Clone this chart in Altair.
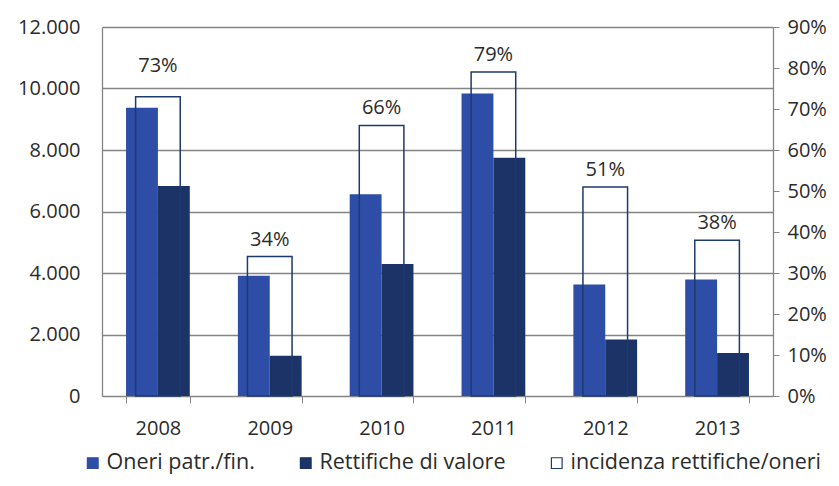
import altair as alt
import pandas as pd

anni = ["2008", "2009", "2010", "2011", "2012", "2013"]
oneri = [9370, 3910, 6560, 9840, 3630, 3790]
rettifiche = [6830, 1310, 4290, 7750, 1840, 1400]
incidenza = [0.73, 0.34, 0.66, 0.79, 0.51, 0.38]
serie = ["Oneri patr./fin.", "Rettifiche di valore", "incidenza rettifiche/oneri"]

blue = "#2D4DA6"
dark = "#1B3367"
navy = "#1F3A6E"
grid = "#858585"
txt = "#2b2b2b"
FONT = "Open Sans"

bars_df = pd.DataFrame({
    "anno": anni * 2,
    "serie": [serie[0]] * len(anni) + [serie[1]] * len(anni),
    "valore": oneri + rettifiche,
})
inc_df = pd.DataFrame({
    "anno": anni,
    "serie": [serie[2]] * len(anni),
    "incidenza": incidenza,
    "etichetta": [f"{round(v * 100)}%" for v in incidenza],
})

x_enc = alt.X(
    "anno:N",
    sort=anni,
    scale=alt.Scale(paddingInner=0.43, paddingOuter=0.215),
    axis=alt.Axis(
        title=None, labelAngle=0, tickBand="extent", tickSize=7,
        tickColor=grid, domainColor=grid, labelFontSize=20, labelPadding=15,
        labelColor=txt, labelFont=FONT,
    ),
)

fill_scale = alt.Scale(domain=serie, range=[blue, dark, "white"])
stroke_scale = alt.Scale(domain=serie, range=[blue, dark, navy])
legend = alt.Legend(
    title=None, orient="none", direction="horizontal", legendX=-20, legendY=425,
    symbolType="square", symbolSize=115, symbolStrokeWidth=1.2,
    labelFontSize=21.5, labelFont=FONT, labelColor=txt, labelOffset=3,
    columnPadding=40, labelLimit=400,
)

bars = alt.Chart(bars_df).mark_bar(strokeWidth=0).encode(
    x=x_enc,
    xOffset=alt.XOffset("serie:N", sort=serie[:2], scale=alt.Scale(paddingInner=0, paddingOuter=0)),
    y=alt.Y(
        "valore:Q",
        scale=alt.Scale(domain=[0, 12000], nice=False),
        axis=alt.Axis(
            title=None, values=list(range(0, 12001, 2000)), grid=True,
            gridColor=grid, gridWidth=1.3, domainColor=grid, domainWidth=1.3,
            ticks=False, labelPadding=22, labelFontSize=20, labelFont=FONT,
            labelColor=txt,
            labelExpr="replace(format(datum.value, ','), ',', '.')",
        ),
    ),
    fill=alt.Fill("serie:N", scale=fill_scale, legend=legend),
)

hollow = alt.Chart(inc_df).mark_bar(
    fill="transparent", strokeWidth=1.5, width=alt.RelativeBandSize(0.7)
).encode(
    x=x_enc,
    y=alt.Y(
        "incidenza:Q",
        scale=alt.Scale(domain=[0, 0.9], nice=False),
        axis=alt.Axis(
            title=None, orient="right", format=".0%",
            values=[i / 10 for i in range(10)], grid=False,
            tickSize=6, tickColor=grid, domainColor=grid, domainWidth=1.3,
            labelPadding=8, labelFontSize=20, labelFont=FONT, labelColor=txt,
        ),
    ),
    stroke=alt.Stroke("serie:N", scale=stroke_scale, legend=legend),
)

y_lab = alt.Y("incidenza:Q", scale=alt.Scale(domain=[0, 0.9], nice=False), axis=None)

labels = alt.Chart(inc_df).transform_filter(
    alt.datum.anno != anni[0]
).mark_text(
    dy=-11, baseline="alphabetic", fontSize=20, font=FONT, color=txt
).encode(x=x_enc, y=y_lab, text="etichetta:N")

label_first = alt.Chart(inc_df).transform_filter(
    alt.datum.anno == anni[0]
).mark_text(
    dy=-25, baseline="alphabetic", fontSize=20, font=FONT, color=txt
).encode(x=x_enc, y=y_lab, text="etichetta:N")

chart = alt.layer(bars, hollow, labels, label_first).resolve_scale(y="independent").properties(
    width=671, height=369,
    padding={"left": 102, "top": 27, "right": 66, "bottom": 90},
    autosize=alt.AutoSizeParams(type="none"),
    background="white",
).configure_view(stroke=None)

chart.save("out.html", embed_options={"renderer": "svg", "actions": False})
